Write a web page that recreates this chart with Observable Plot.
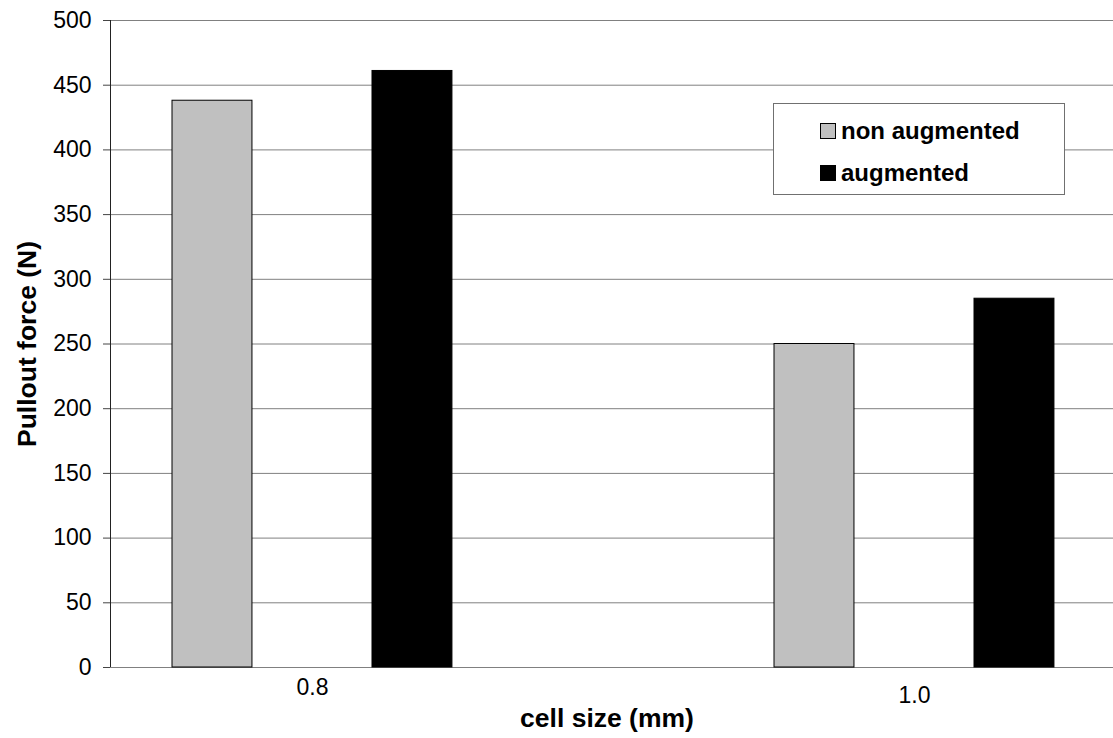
<!DOCTYPE html>
<html>
<head>
<meta charset="utf-8">
<script src="https://cdn.jsdelivr.net/npm/d3@7"></script>
<script src="https://cdn.jsdelivr.net/npm/@observablehq/plot@0.6"></script>
<style>
  html, body { margin: 0; padding: 0; background: #fff; }
  #wrap { position: relative; width: 1113px; height: 738px; font-family: Arial, "Liberation Sans", sans-serif; }
  #legend { position: absolute; left: 773px; top: 103px; width: 290px; height: 90px; background: #fff; border: 1px solid #707070; box-sizing: content-box; }
  .row { position: absolute; left: 46px; display: flex; align-items: center; font-weight: bold; font-size: 24px; line-height: 1; color: #000; }
  .sw { width: 16px; height: 16px; border: 1px solid #000; margin-right: 5px; box-sizing: border-box; }
</style>
</head>
<body>
<div id="wrap"></div>
<script>
const categories = ["0.8", "1.0"];
const series = ["non augmented", "augmented"];
const nonAugmented = [438, 250];
const augmented = [461, 285];
const yTicks = [0, 50, 100, 150, 200, 250, 300, 350, 400, 450, 500];
const colors = ["#C0C0C0", "#000000"];

const values = [nonAugmented, augmented];
const rows = [];
categories.forEach((c, ci) => series.forEach((s, si) => rows.push({cat: c, ci, s, si, value: values[si][ci]})));

// layout in category units (one unit between group centres)
const barOffset = 0.1661, barHalf = 0.0664;
const xDomain = [-0.3355, 1.3306];

const chart = Plot.plot({
  width: 1113,
  height: 738,
  marginLeft: 110,
  marginRight: 0,
  marginTop: 20,
  marginBottom: 71,
  style: {fontFamily: "Arial, 'Liberation Sans', sans-serif", fontSize: "23px", color: "#000", background: "#fff"},
  x: {type: "linear", domain: xDomain},
  y: {domain: [0, 500]},
  color: {domain: series, range: colors},
  marks: [
    Plot.ruleY(yTicks, {stroke: "#808080", strokeWidth: 1}),
    Plot.rectY(rows, {
      x1: d => d.ci + (d.si === 0 ? -barOffset : barOffset) - barHalf,
      x2: d => d.ci + (d.si === 0 ? -barOffset : barOffset) + barHalf,
      y: "value",
      fill: "s",
      stroke: "#000",
      strokeWidth: 1
    }),
    Plot.ruleX([xDomain[0]], {stroke: "#222", strokeWidth: 1}),
    Plot.axisY({ticks: yTicks, tickSize: 7, tickPadding: 12, fontSize: 23, stroke: "#444", label: null}),
    Plot.axisX({ticks: [0], tickFormat: i => categories[i], tickSize: 0, tickPadding: 11, fontSize: 23, label: null}),
    Plot.axisX({ticks: [1], tickFormat: i => categories[i], tickSize: 0, tickPadding: 19, fontSize: 23, label: null}),
    Plot.text(["cell size (mm)"], {text: d => d, frameAnchor: "bottom", lineAnchor: "middle", textAnchor: "middle", dy: 51, dx: -5, fontWeight: "bold", fontSize: 26.5}),
    Plot.text(["Pullout force (N)"], {text: d => d, frameAnchor: "left", lineAnchor: "middle", textAnchor: "middle", rotate: -90, dx: -83, fontWeight: "bold", fontSize: 26.5})
  ]
});

const wrap = document.getElementById("wrap");
wrap.appendChild(chart);

const legend = document.createElement("div");
legend.id = "legend";
series.forEach((s, i) => {
  const row = document.createElement("div");
  row.className = "row";
  row.style.top = (i === 0 ? 15 : 57) + "px";
  const sw = document.createElement("span");
  sw.className = "sw";
  sw.style.background = colors[i];
  const t = document.createElement("span");
  t.textContent = s;
  row.appendChild(sw);
  row.appendChild(t);
  legend.appendChild(row);
});
wrap.appendChild(legend);
</script>
</body>
</html>
